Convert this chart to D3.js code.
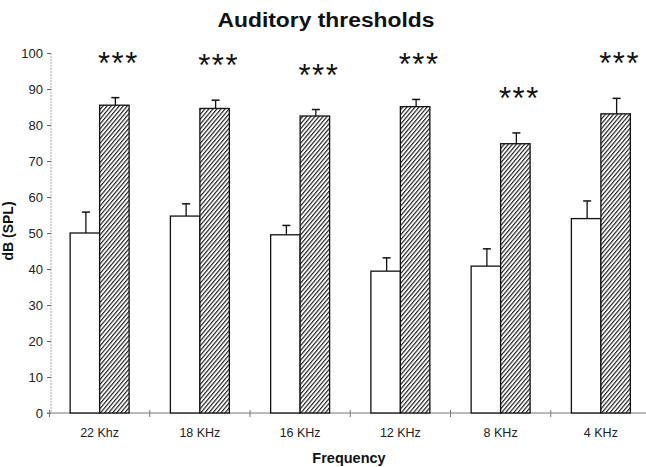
<!DOCTYPE html>
<html>
<head>
<meta charset="utf-8">
<script src="https://cdn.jsdelivr.net/npm/d3@7"></script>
<style>
  html, body { margin: 0; padding: 0; background: #ffffff; }
  svg { display: block; }
  text { font-family: Arial, "Liberation Sans", Helvetica, sans-serif; }
</style>
</head>
<body>
<svg id="chart" width="646" height="467"></svg>
<script>
// ---- data ----
const categories = ["22 Khz", "18 KHz", "16 KHz", "12 KHz", "8 KHz", "4 KHz"];
const series = ["control", "treated"];
const controlValues = [50, 54.7, 49.5, 39.4, 40.8, 54];
const controlErrors = [5.8, 3.4, 2.6, 3.7, 4.8, 4.9];
const treatedValues = [85.5, 84.6, 82.5, 85.1, 74.8, 83.1];
const treatedErrors = [2.1, 2.3, 1.8, 2.0, 3.0, 4.3];
const significance = ["***", "***", "***", "***", "***", "***"];
const yTicks = [0, 10, 20, 30, 40, 50, 60, 70, 80, 90, 100];
const titleText = "Auditory thresholds";
const xTitle = "Frequency";
const yTitle = "dB (SPL)";

// ---- layout ----
const svg = d3.select("#chart");
const x0 = d3.scaleBand().domain(categories).range([49.5, 651]).paddingInner(0).paddingOuter(0);
const x1 = d3.scaleBand().domain(series).range([0, x0.bandwidth()]).paddingInner(0).paddingOuter(0.7);
const y = d3.scaleLinear().domain([0, 100]).range([413, 53]);

// hatch pattern
const defs = svg.append("defs");
const pat = defs.append("pattern")
  .attr("id", "hatch")
  .attr("patternUnits", "userSpaceOnUse")
  .attr("width", 3.1).attr("height", 10)
  .attr("patternTransform", "rotate(40)");
pat.append("rect").attr("width", 3.1).attr("height", 10).attr("fill", "#fff");
pat.append("line").attr("x1", 0.6).attr("y1", 0).attr("x2", 0.6).attr("y2", 10)
  .attr("stroke", "#111").attr("stroke-width", 1.1);

// title
svg.append("text")
  .attr("x", 326).attr("y", 27)
  .attr("text-anchor", "middle")
  .attr("font-size", 20).attr("font-weight", "bold")
  .attr("textLength", 217).attr("lengthAdjust", "spacingAndGlyphs")
  .attr("fill", "#111")
  .text(titleText);

// y axis (light dotted line) with ticks
svg.append("line")
  .attr("x1", 51).attr("x2", 51).attr("y1", y(100)).attr("y2", y(0))
  .attr("stroke", "#aaa").attr("stroke-width", 1).attr("stroke-dasharray", "2,1");
const yAxis = d3.axisLeft(y).tickValues(yTicks).tickSize(4).tickPadding(4).tickFormat(d3.format("d"));
const yg = svg.append("g").attr("transform", "translate(51,0)").call(yAxis);
yg.select(".domain").remove();
yg.selectAll(".tick line").attr("stroke", "#666");
yg.selectAll(".tick text").attr("font-size", 13).attr("fill", "#222")
  .attr("font-family", "Arial, 'Liberation Sans', sans-serif");

// x axis line and boundary ticks
const xg = svg.append("g");
xg.append("line")
  .attr("x1", 47).attr("x2", 646).attr("y1", y(0)).attr("y2", y(0))
  .attr("stroke", "#777").attr("stroke-width", 1);
const boundaries = categories.map(c => x0(c));
xg.selectAll("line.bt").data(boundaries).enter().append("line")
  .attr("class", "bt")
  .attr("x1", d => d).attr("x2", d => d)
  .attr("y1", y(0) - 3).attr("y2", y(0) + 4)
  .attr("stroke", "#777").attr("stroke-width", 1);
xg.selectAll("text.xl").data(categories).enter().append("text")
  .attr("class", "xl")
  .attr("x", d => x0(d) + x0.bandwidth() / 2)
  .attr("y", 437)
  .attr("text-anchor", "middle")
  .attr("font-size", 12.5).attr("fill", "#222")
  .text(d => d);

// axis titles
svg.append("text")
  .attr("x", 349).attr("y", 463)
  .attr("text-anchor", "middle")
  .attr("font-size", 14.5).attr("font-weight", "bold").attr("fill", "#111")
  .text(xTitle);
svg.append("text")
  .attr("transform", "translate(13,231) rotate(-90)")
  .attr("text-anchor", "middle")
  .attr("font-size", 14).attr("font-weight", "bold").attr("fill", "#111")
  .text(yTitle);

// bars
const rows = categories.map((c, i) => ({
  cat: c,
  bars: [
    { key: "control", value: controlValues[i], err: controlErrors[i] },
    { key: "treated", value: treatedValues[i], err: treatedErrors[i] }
  ],
  sig: significance[i]
}));

const groups = svg.selectAll("g.grp").data(rows).enter().append("g")
  .attr("class", "grp")
  .attr("transform", d => `translate(${x0(d.cat)},0)`);

// error bars
groups.selectAll("g.err").data(d => d.bars).enter().append("g")
  .attr("class", "err")
  .each(function(b) {
    const g = d3.select(this);
    const cx = x1(b.key) + x1.bandwidth() / 2 + 1;
    g.append("line").attr("x1", cx).attr("x2", cx)
      .attr("y1", y(b.value)).attr("y2", y(b.value + b.err))
      .attr("stroke", "#111").attr("stroke-width", 1.3);
    g.append("line").attr("x1", cx - 4).attr("x2", cx + 4)
      .attr("y1", y(b.value + b.err)).attr("y2", y(b.value + b.err))
      .attr("stroke", "#111").attr("stroke-width", 1.5);
  });

groups.selectAll("rect.bar").data(d => d.bars).enter().append("rect")
  .attr("class", "bar")
  .attr("x", b => x1(b.key))
  .attr("y", b => y(b.value))
  .attr("width", x1.bandwidth())
  .attr("height", b => y(0) - y(b.value))
  .attr("fill", b => b.key === "control" ? "#fff" : "url(#hatch)")
  .attr("stroke", "#111").attr("stroke-width", 1.3);

// significance markers
groups.append("text")
  .attr("x", d => x1("treated") + x1.bandwidth() / 2 + 4)
  .attr("y", d => y(d.bars[1].value + d.bars[1].err) - 41 + 17)
  .attr("text-anchor", "middle")
  .attr("font-size", 31).attr("fill", "#111")
  .attr("letter-spacing", 1.5)
  .text(d => d.sig);
</script>
</body>
</html>
